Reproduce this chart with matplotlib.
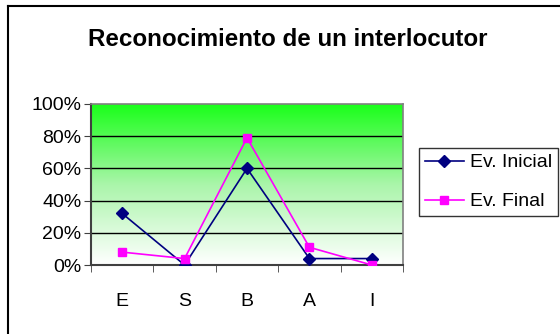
import numpy as np
import matplotlib.pyplot as plt
from matplotlib.colors import LinearSegmentedColormap
from matplotlib.lines import Line2D

categories = ["E", "S", "B", "A", "I"]
ev_inicial = [32, 0, 60, 4, 4]
ev_final = [8, 4, 79, 11, 0]
y_ticks = [0, 20, 40, 60, 80, 100]
y_labels = ["0%", "20%", "40%", "60%", "80%", "100%"]

plt.rcParams['font.family'] = ['Liberation Sans', 'DejaVu Sans']

fig = plt.figure(figsize=(5.6, 3.34), dpi=100)

# marco exterior (solo izquierda y arriba visibles)
fig.add_artist(Line2D([7.5 / 560, 7.5 / 560], [0, 1 - 5.5 / 334],
                      transform=fig.transFigure, color="black", lw=1.5))
fig.add_artist(Line2D([7.5 / 560, 1], [1 - 5.5 / 334, 1 - 5.5 / 334],
                      transform=fig.transFigure, color="black", lw=1.5))

ax = fig.add_axes([91 / 560, 69 / 334, 312 / 560, 161 / 334])

x = np.arange(len(categories))
ax.set_xlim(-0.5, len(categories) - 0.5)
ax.set_ylim(0, 100)

# fondo degradado verde -> blanco
cmap = LinearSegmentedColormap.from_list("g", ["#ffffff", "#aaf5aa", "#1aff1a"])
grad = np.linspace(0, 1, 256).reshape(-1, 1)
ax.imshow(grad, cmap=cmap, aspect="auto", origin="lower",
          extent=[-0.5, len(categories) - 0.5, 0, 100], zorder=0)

for yv in y_ticks[1:-1]:
    ax.axhline(yv, color="black", lw=1.0, zorder=1)

ax.plot(x, ev_inicial, color="#000080", lw=1.2, marker="D", markersize=6,
        label="Ev. Inicial", zorder=3)
ax.plot(x, ev_final, color="#ff00ff", lw=1.2, marker="s", markersize=6,
        label="Ev. Final", zorder=4)

ax.set_yticks(y_ticks)
ax.set_yticklabels(y_labels, fontsize=14)
ax.set_xticks(x)
ax.set_xticklabels(categories, fontsize=14)
ax.set_xticks(np.arange(-0.5, len(categories)), minor=True)
ax.tick_params(axis="x", which="major", length=0, pad=20)
ax.tick_params(axis="x", which="minor", length=5, color="#404040")
ax.tick_params(axis="y", length=5, color="#404040", pad=2)

for s in ["left", "bottom"]:
    ax.spines[s].set_color("#404040")
    ax.spines[s].set_linewidth(1.5)
for s in ["right", "top"]:
    ax.spines[s].set_color("#808080")
    ax.spines[s].set_linewidth(1.2)

fig.text(288 / 560, 1 - 40 / 334, "Reconocimiento de un interlocutor",
         ha="center", va="center", fontsize=17.4, fontweight="bold")

leg = ax.legend(loc="upper left", bbox_to_anchor=(419 / 560, 1 - 148 / 334),
                bbox_transform=fig.transFigure, fontsize=14, frameon=True,
                fancybox=False, edgecolor="black", handlelength=2.0,
                borderpad=0.3, labelspacing=1.1, handletextpad=0.3,
                borderaxespad=0)
leg.get_frame().set_linewidth(1.0)

fig.savefig("out.png", dpi=100)
